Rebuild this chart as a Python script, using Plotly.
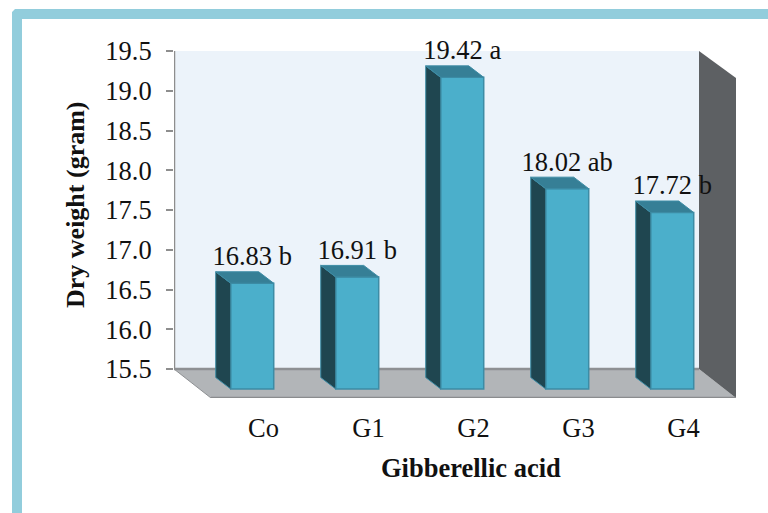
import plotly.graph_objects as go

categories = ["Co", "G1", "G2", "G3", "G4"]
values = [16.83, 16.91, 19.42, 18.02, 17.72]
letters = ["b", "b", "a", "ab", "b"]
y_ticks = [15.5, 16.0, 16.5, 17.0, 17.5, 18.0, 18.5, 19.0, 19.5]

W, H = 768, 513
L, R, T, B = 174, 736, 51, 398          # plot area in pixels
Y_MIN, Y_MAX = 15.5, 19.5
UPY = (369 - 51) / (Y_MAX - Y_MIN)      # pixels per y unit on back wall
UPX = 105.0                             # pixels per category
y_low = Y_MIN - (B - 369) / UPY
x_lo = -0.5
x_hi = x_lo + (R - L) / UPX
DX = (R - 699) / UPX                    # full depth of floor, x units
DY = (B - 369) / UPY                    # full depth of floor, y units
WALL_R = x_lo + 5.0

BAR_W = 43 / UPX
BAR_X = 0.245                           # bar front centre vs back-wall category centre
BAR_BASE = Y_MIN - 20 / UPY             # front bottom of bars
SIDE_X = 15 / UPX
SIDE_Y = 11.5 / UPY

def fx(p): return (p - L) / (R - L)
def fy(p): return (B - p) / (B - T)

C_FRONT, C_EDGE, C_SIDE, C_TOP = "#4BAFCB", "#3D8CA5", "#1F4650", "#367F96"
FONT = "Liberation Serif"

xs = [i + BAR_X for i in range(len(values))]
heights = [v - Y_MIN for v in values]

side_x, side_y, top_x, top_y = [], [], [], []
for x, v in zip(xs, values):
    lft = x - BAR_W / 2
    rgt = x + BAR_W / 2
    ytop = BAR_BASE + (v - Y_MIN)
    side_x += [lft, lft - SIDE_X, lft - SIDE_X, lft, lft, None]
    side_y += [BAR_BASE, BAR_BASE + SIDE_Y, ytop + SIDE_Y, ytop, BAR_BASE, None]
    top_x += [lft, lft - SIDE_X, rgt - SIDE_X, rgt, lft, None]
    top_y += [ytop, ytop + SIDE_Y, ytop + SIDE_Y, ytop, ytop, None]

fig = go.Figure()
fig.add_trace(go.Bar(x=xs, y=heights, base=BAR_BASE, width=BAR_W,
                     marker=dict(color=C_FRONT, line=dict(color=C_EDGE, width=1.5)),
                     hoverinfo="skip"))
fig.add_trace(go.Scatter(x=side_x, y=side_y, mode="lines", fill="toself", fillcolor=C_SIDE,
                         line=dict(color=C_EDGE, width=1), hoverinfo="skip"))
fig.add_trace(go.Scatter(x=top_x, y=top_y, mode="lines", fill="toself", fillcolor=C_TOP,
                         line=dict(color=C_EDGE, width=1), hoverinfo="skip"))
fig.add_trace(go.Scatter(
    x=xs, y=[BAR_BASE + (v - Y_MIN) + SIDE_Y for v in values], mode="text",
    text=[f"{v:.2f} {l}" for v, l in zip(values, letters)],
    textposition="top center", textfont=dict(family=FONT, size=26.5, color="#111111"),
    cliponaxis=False, hoverinfo="skip"))

def poly(pts):
    return "M " + " L ".join(f"{a},{b}" for a, b in pts) + " Z"

shapes = [
    # frame
    dict(type="path", xref="paper", yref="paper", layer="below", line=dict(width=0),
         fillcolor="#92CDDC",
         path=poly([(fx(12), fy(513)), (fx(12), fy(12)), (fx(15), fy(9)), (fx(768), fy(9)),
                    (fx(768), fy(19)), (fx(22), fy(19)), (fx(22), fy(513))])),
    # back wall
    dict(type="rect", layer="below", x0=x_lo, x1=WALL_R, y0=Y_MIN, y1=Y_MAX,
         fillcolor="#ECF3FA", line=dict(width=0)),
    # floor
    dict(type="path", layer="below", fillcolor="#B2B5B8", line=dict(width=0),
         path=poly([(x_lo, Y_MIN), (WALL_R, Y_MIN), (WALL_R + DX, y_low), (x_lo + DX, y_low)])),
    # right wall
    dict(type="path", layer="below", fillcolor="#5D6063", line=dict(width=0),
         path=poly([(WALL_R, Y_MAX), (WALL_R + DX, Y_MAX - DY * 27 / 29),
                     (WALL_R + DX, y_low), (WALL_R, Y_MIN)])),
    # edges
    dict(type="line", layer="below", x0=x_lo, x1=WALL_R, y0=Y_MIN, y1=Y_MIN,
         line=dict(color="#8E9093", width=2.5)),
    dict(type="line", layer="below", x0=x_lo + DX, x1=WALL_R + DX, y0=y_low, y1=y_low,
         line=dict(color="#8A8C8E", width=2.5)),
    dict(type="line", layer="below", x0=x_lo, x1=x_lo, y0=Y_MIN, y1=Y_MAX,
         line=dict(color="#8E8E8E", width=2.5)),
    dict(type="line", layer="below", x0=x_lo, x1=x_lo + DX, y0=Y_MIN, y1=y_low,
         line=dict(color="#8E9093", width=1)),
]

fig.update_layout(
    width=W, height=H, autosize=False,
    margin=dict(l=L, r=W - R, t=T, b=H - B, pad=0),
    paper_bgcolor="white", plot_bgcolor="rgba(0,0,0,0)", showlegend=False,
    xaxis=dict(range=[x_lo, x_hi], tickmode="array",
               tickvals=[i + DX for i in range(len(categories))], ticktext=categories,
               showgrid=False, zeroline=False, showline=False, ticks="", ticklabelstandoff=11,
               tickfont=dict(family=FONT, size=26.5, color="#111111")),
    yaxis=dict(range=[y_low, Y_MAX], tickmode="array", tickvals=y_ticks,
               ticktext=[f"{t:.1f}" for t in y_ticks],
               showgrid=False, zeroline=False, showline=False, ticks="outside", ticklen=7,
               tickwidth=1.5, tickcolor="#8E8E8E", ticklabelstandoff=9,
               tickfont=dict(family=FONT, size=26.5, color="#111111")),
    shapes=shapes,
    annotations=[
        dict(text="<b>Dry weight (gram)</b>", xref="paper", yref="paper", x=fx(75), y=fy(205),
             textangle=-90, showarrow=False, xanchor="center", yanchor="middle",
             font=dict(family=FONT, size=26, color="#111111")),
        dict(text="<b>Gibberellic acid</b>", xref="paper", yref="paper", x=fx(471), y=fy(468),
             showarrow=False, xanchor="center", yanchor="middle",
             font=dict(family=FONT, size=26.5, color="#111111")),
    ],
)
fig.write_html("out.html", post_script="document.body.style.margin='0';",
               config={"displayModeBar": False})
